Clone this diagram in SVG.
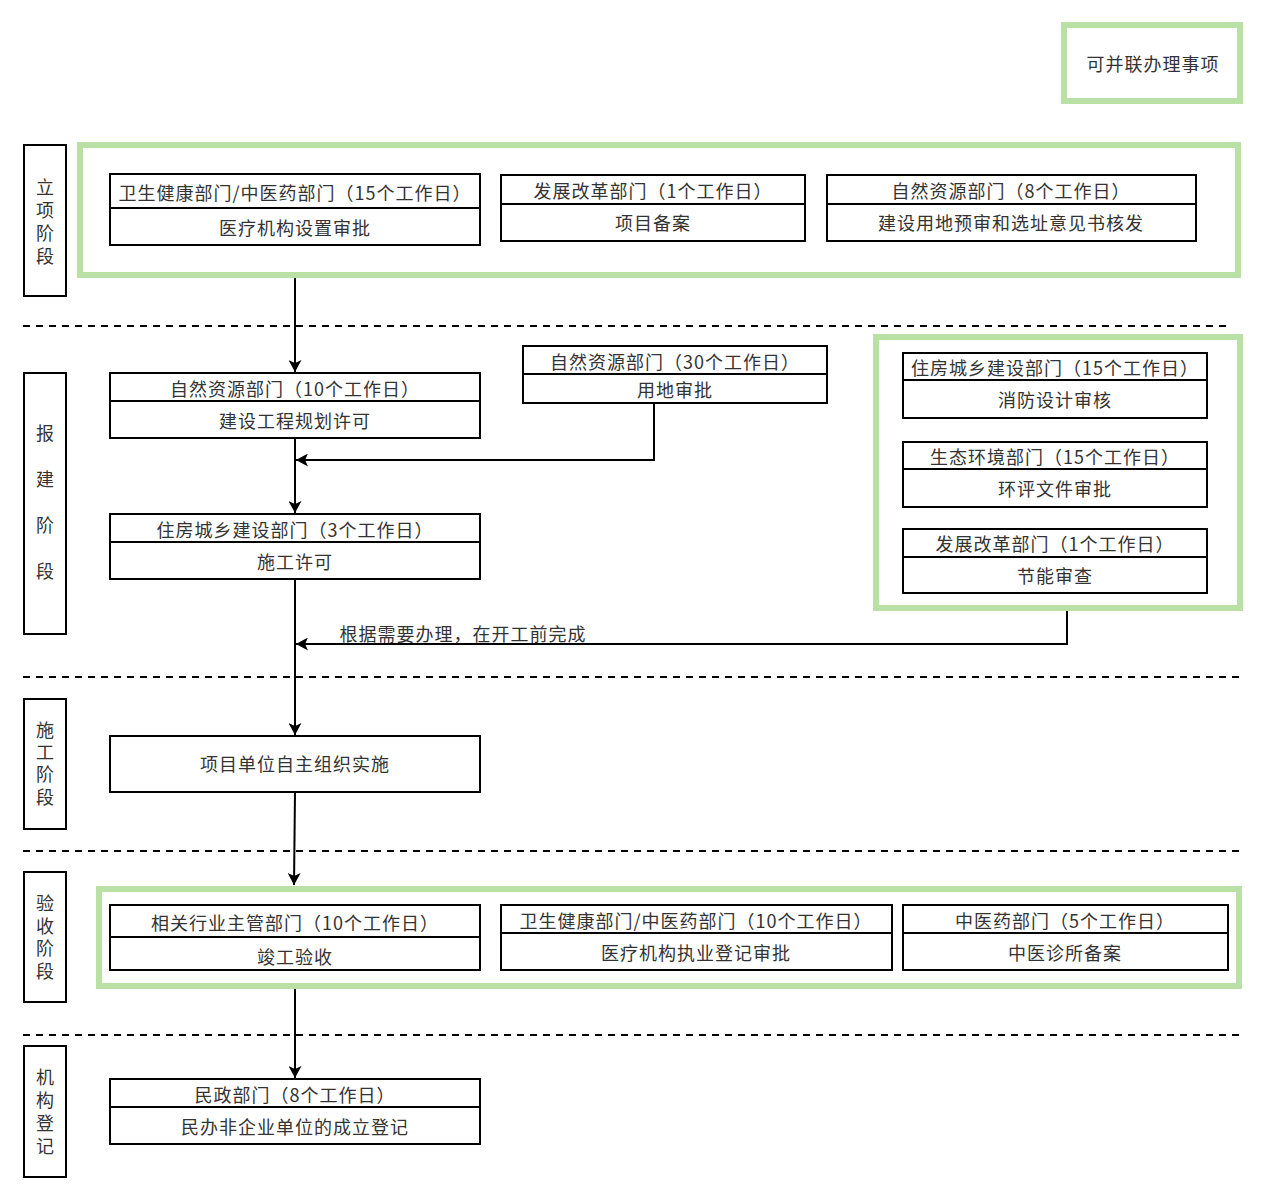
<svg xmlns="http://www.w3.org/2000/svg" width="1264" height="1199" viewBox="0 0 1264 1199">
<defs>
<style>
.bg{fill:#ffffff}
.grp{fill:none;stroke:#b9e0a5;stroke-width:6}
.box{fill:#ffffff;stroke:#000000;stroke-width:2}
.div{stroke:#000000;stroke-width:2;fill:none}
.stage{fill:#ffffff;stroke:#000000;stroke-width:2}
.t{font-family:"Noto Sans CJK SC","Liberation Sans",sans-serif;font-size:18px;fill:#333333;text-anchor:middle;dominant-baseline:central;letter-spacing:1px}
.v{font-family:"Noto Sans CJK SC","Liberation Sans",sans-serif;font-size:18px;fill:#333333;text-anchor:middle;writing-mode:vertical-rl;text-orientation:upright}
.dash{stroke:#000000;stroke-width:2;stroke-dasharray:7 6;fill:none}
.edge{stroke:#000000;stroke-width:2;fill:none}
</style>
<marker id="arr" viewBox="0 0 12 13" refX="12" refY="6.5" markerWidth="12" markerHeight="13" markerUnits="userSpaceOnUse" orient="auto">
<path d="M0,0 L12,6.5 L0,13 L3,6.5 z" fill="#000000"/>
</marker>
</defs>
<rect class="bg" x="0" y="0" width="1264" height="1199"/>

<g id="legend">
<rect class="grp" x="1064" y="25" width="176" height="76"/>
<text class="t" x="1153" y="63">可并联办理事项</text>
</g>

<g id="dashed-lines">
<line class="dash" x1="23" y1="326" x2="1229" y2="326"/>
<line class="dash" x1="23" y1="677" x2="1239" y2="677"/>
<line class="dash" x1="23" y1="851" x2="1239" y2="851"/>
<line class="dash" x1="23" y1="1035" x2="1239" y2="1035"/>
</g>

<g id="groups">
<rect id="group-lixiang" class="grp" x="80" y="145" width="1158" height="130"/>
<rect id="group-baojian" class="grp" x="876" y="337" width="364" height="271"/>
<rect id="group-yanshou" class="grp" x="99" y="889" width="1140" height="97"/>
</g>

<g id="stage-lixiang">
<rect class="stage" x="24" y="145" width="42" height="151"/>
<text class="v" x="45" y="224" letter-spacing="4.7">立项阶段</text>
</g>
<g id="stage-baojian">
<rect class="stage" x="24" y="373" width="42" height="261"/>
<text class="v" x="45" y="516" letter-spacing="27.7">报建阶段</text>
</g>
<g id="stage-shigong">
<rect class="stage" x="24" y="699" width="42" height="130"/>
<text class="v" x="45" y="765.5" letter-spacing="4.3">施工阶段</text>
</g>
<g id="stage-yanshou">
<rect class="stage" x="24" y="872" width="42" height="130"/>
<text class="v" x="45" y="939.5" letter-spacing="4.7">验收阶段</text>
</g>
<g id="stage-jigou">
<rect class="stage" x="24" y="1046" width="42" height="131"/>
<text class="v" x="45" y="1114" letter-spacing="5">机构登记</text>
</g>

<g id="node-yiliao-shezhi">
<rect class="box" x="110" y="174" width="370" height="71"/>
<line class="div" x1="110" y1="208" x2="480" y2="208"/>
<text class="t" x="295" y="192">卫生健康部门/中医药部门（15个工作日）</text>
<text class="t" x="295" y="227">医疗机构设置审批</text>
</g>
<g id="node-xiangmu-bean">
<rect class="box" x="501" y="175" width="304" height="66"/>
<line class="div" x1="501" y1="204" x2="805" y2="204"/>
<text class="t" x="653" y="190">发展改革部门（1个工作日）</text>
<text class="t" x="653" y="222">项目备案</text>
</g>
<g id="node-yongdi-yushen">
<rect class="box" x="827" y="175" width="369" height="66"/>
<line class="div" x1="827" y1="204" x2="1196" y2="204"/>
<text class="t" x="1011" y="190">自然资源部门（8个工作日）</text>
<text class="t" x="1011" y="222">建设用地预审和选址意见书核发</text>
</g>

<g id="node-guihua-xuke">
<rect class="box" x="110" y="373" width="370" height="65"/>
<line class="div" x1="110" y1="401" x2="480" y2="401"/>
<text class="t" x="295" y="388">自然资源部门（10个工作日）</text>
<text class="t" x="295" y="420">建设工程规划许可</text>
</g>
<g id="node-yongdi-shenpi">
<rect class="box" x="523" y="346" width="304" height="57"/>
<line class="div" x1="523" y1="374" x2="827" y2="374"/>
<text class="t" x="675" y="361">自然资源部门（30个工作日）</text>
<text class="t" x="675" y="389">用地审批</text>
</g>
<g id="node-shigong-xuke">
<rect class="box" x="110" y="514" width="370" height="65"/>
<line class="div" x1="110" y1="542" x2="480" y2="542"/>
<text class="t" x="295" y="529">住房城乡建设部门（3个工作日）</text>
<text class="t" x="295" y="561">施工许可</text>
</g>
<g id="node-xiaofang">
<rect class="box" x="903" y="353" width="304" height="65"/>
<line class="div" x1="903" y1="380" x2="1207" y2="380"/>
<text class="t" x="1055" y="367">住房城乡建设部门（15个工作日）</text>
<text class="t" x="1055" y="399">消防设计审核</text>
</g>
<g id="node-huanping">
<rect class="box" x="903" y="442" width="304" height="65"/>
<line class="div" x1="903" y1="469" x2="1207" y2="469"/>
<text class="t" x="1055" y="456">生态环境部门（15个工作日）</text>
<text class="t" x="1055" y="488">环评文件审批</text>
</g>
<g id="node-jieneng">
<rect class="box" x="903" y="529" width="304" height="64"/>
<line class="div" x1="903" y1="557" x2="1207" y2="557"/>
<text class="t" x="1055" y="543">发展改革部门（1个工作日）</text>
<text class="t" x="1055" y="575">节能审查</text>
</g>

<g id="node-zizhu-shishi">
<rect class="box" x="110" y="736" width="370" height="56"/>
<text class="t" x="295" y="763">项目单位自主组织实施</text>
</g>

<g id="node-jungong">
<rect class="box" x="110" y="905" width="370" height="65"/>
<line class="div" x1="110" y1="937" x2="480" y2="937"/>
<text class="t" x="295" y="922">相关行业主管部门（10个工作日）</text>
<text class="t" x="295" y="956">竣工验收</text>
</g>
<g id="node-zhiye-dengji">
<rect class="box" x="501" y="905" width="391" height="65"/>
<line class="div" x1="501" y1="933" x2="892" y2="933"/>
<text class="t" x="696" y="920">卫生健康部门/中医药部门（10个工作日）</text>
<text class="t" x="696" y="952">医疗机构执业登记审批</text>
</g>
<g id="node-zhensuo">
<rect class="box" x="903" y="905" width="325" height="65"/>
<line class="div" x1="903" y1="933" x2="1228" y2="933"/>
<text class="t" x="1065" y="920">中医药部门（5个工作日）</text>
<text class="t" x="1065" y="952">中医诊所备案</text>
</g>

<g id="node-minzheng">
<rect class="box" x="110" y="1079" width="370" height="65"/>
<line class="div" x1="110" y1="1107" x2="480" y2="1107"/>
<text class="t" x="295" y="1094">民政部门（8个工作日）</text>
<text class="t" x="295" y="1126">民办非企业单位的成立登记</text>
</g>

<g id="connectors">
<line class="edge" x1="295" y1="278" x2="295" y2="372" marker-end="url(#arr)"/>
<line class="edge" x1="295" y1="438" x2="295" y2="513" marker-end="url(#arr)"/>
<polyline class="edge" points="654,403 654,460 296,460" marker-end="url(#arr)"/>
<line class="edge" x1="295" y1="579" x2="295" y2="735" marker-end="url(#arr)"/>
<polyline class="edge" points="1067,611 1067,644 296,644" marker-end="url(#arr)"/>
<text class="t" x="463" y="633">根据需要办理，在开工前完成</text>
<line class="edge" x1="295" y1="792" x2="294" y2="885" marker-end="url(#arr)"/>
<line class="edge" x1="295" y1="989" x2="295" y2="1078" marker-end="url(#arr)"/>
</g>
</svg>
